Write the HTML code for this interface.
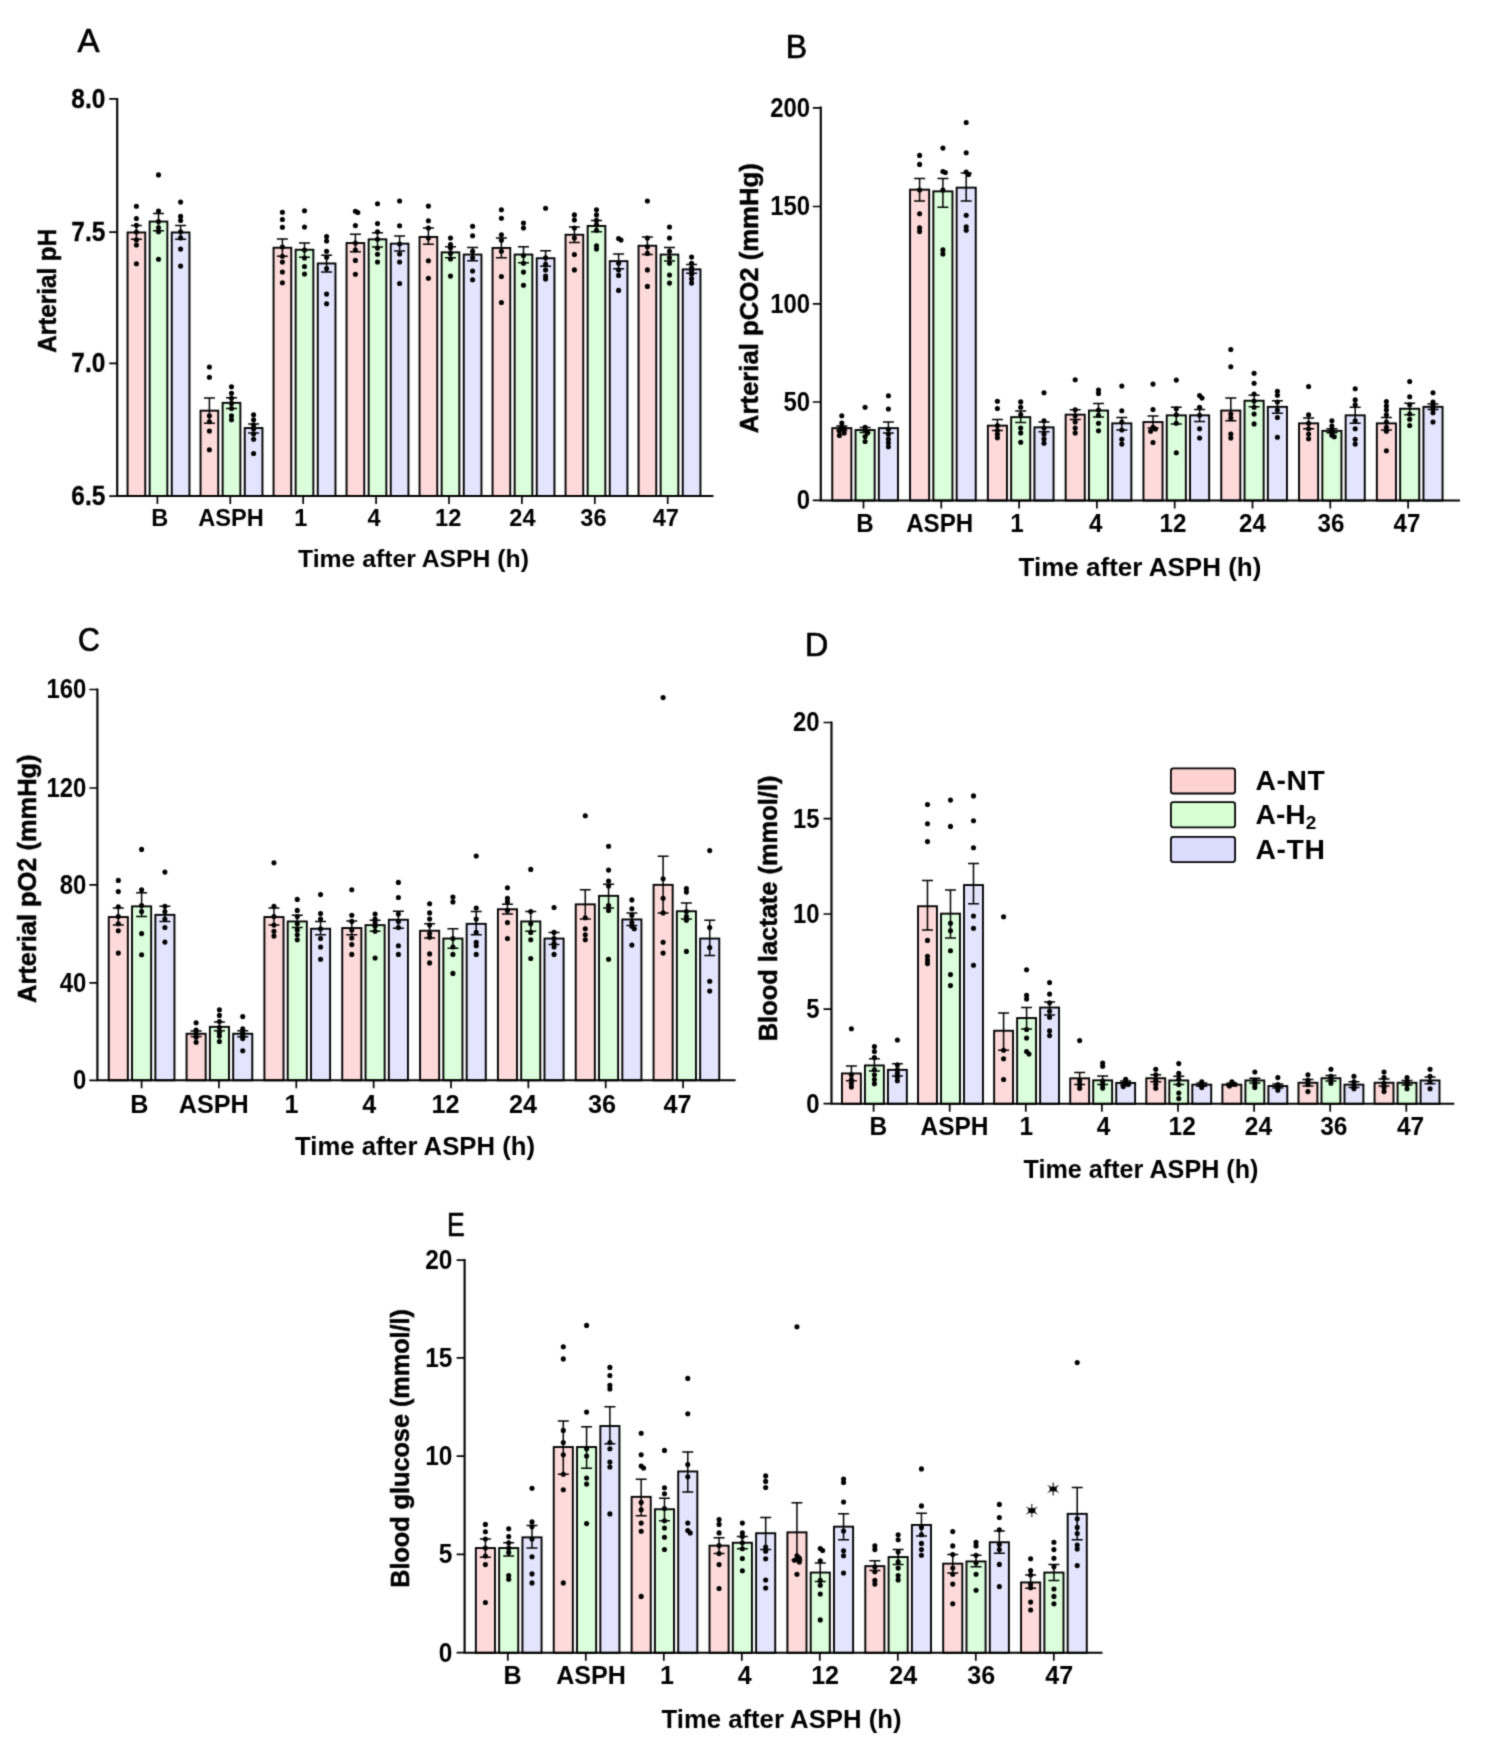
<!DOCTYPE html>
<html><head><meta charset="utf-8"><title>Figure</title>
<style>html,body{margin:0;padding:0;background:#fff}body{width:1500px;height:1762px;overflow:hidden}
svg{display:block;font-family:"Liberation Sans",sans-serif}
svg text{fill:#000}
.wa text{font-weight:bold}
.wa text.yl{stroke:#000;stroke-width:0.3px}
.wb text{font-weight:bold}
svg text.yt{stroke:#000;stroke-width:0.5px}
svg text.L{font-weight:normal;stroke:#000;stroke-width:0.7px}
svg text.lg{font-weight:bold}
</style></head><body>
<svg width="1500" height="1762" viewBox="0 0 1500 1762">
<defs><filter id="soft" x="0" y="0" width="1500" height="1762" filterUnits="userSpaceOnUse" color-interpolation-filters="sRGB"><feConvolveMatrix order="3" kernelMatrix="1 4 1 4 16 4 1 4 1" divisor="36" edgeMode="duplicate" preserveAlpha="false"/></filter></defs>
<g filter="url(#soft)">
<rect width="1500" height="1762" fill="#fff"/>
<g id="panelA" class="wa">
<rect x="127.55" y="232.45" width="17.7" height="263.6" fill="#ffdada" stroke="#000" stroke-width="1.9"/>
<rect x="149.65" y="221.55" width="17.7" height="274.5" fill="#dbffdb" stroke="#000" stroke-width="1.9"/>
<rect x="171.75" y="232.45" width="17.7" height="263.6" fill="#e4e4ff" stroke="#000" stroke-width="1.9"/>
<rect x="200.55" y="410.65" width="17.7" height="85.4" fill="#ffdada" stroke="#000" stroke-width="1.9"/>
<rect x="222.65" y="402.85" width="17.7" height="93.2" fill="#dbffdb" stroke="#000" stroke-width="1.9"/>
<rect x="244.75" y="428.05" width="17.7" height="68" fill="#e4e4ff" stroke="#000" stroke-width="1.9"/>
<rect x="273.55" y="247.75" width="17.7" height="248.3" fill="#ffdada" stroke="#000" stroke-width="1.9"/>
<rect x="295.65" y="249.75" width="17.7" height="246.3" fill="#dbffdb" stroke="#000" stroke-width="1.9"/>
<rect x="317.75" y="263.45" width="17.7" height="232.6" fill="#e4e4ff" stroke="#000" stroke-width="1.9"/>
<rect x="346.55" y="243.05" width="17.7" height="253" fill="#ffdada" stroke="#000" stroke-width="1.9"/>
<rect x="368.65" y="239.35" width="17.7" height="256.7" fill="#dbffdb" stroke="#000" stroke-width="1.9"/>
<rect x="390.75" y="243.65" width="17.7" height="252.4" fill="#e4e4ff" stroke="#000" stroke-width="1.9"/>
<rect x="419.55" y="236.95" width="17.7" height="259.1" fill="#ffdada" stroke="#000" stroke-width="1.9"/>
<rect x="441.65" y="252.35" width="17.7" height="243.7" fill="#dbffdb" stroke="#000" stroke-width="1.9"/>
<rect x="463.75" y="254.55" width="17.7" height="241.5" fill="#e4e4ff" stroke="#000" stroke-width="1.9"/>
<rect x="492.55" y="247.95" width="17.7" height="248.1" fill="#ffdada" stroke="#000" stroke-width="1.9"/>
<rect x="514.65" y="254.55" width="17.7" height="241.5" fill="#dbffdb" stroke="#000" stroke-width="1.9"/>
<rect x="536.75" y="258.25" width="17.7" height="237.8" fill="#e4e4ff" stroke="#000" stroke-width="1.9"/>
<rect x="565.55" y="234.75" width="17.7" height="261.3" fill="#ffdada" stroke="#000" stroke-width="1.9"/>
<rect x="587.65" y="225.95" width="17.7" height="270.1" fill="#dbffdb" stroke="#000" stroke-width="1.9"/>
<rect x="609.75" y="261.15" width="17.7" height="234.9" fill="#e4e4ff" stroke="#000" stroke-width="1.9"/>
<rect x="638.55" y="245.75" width="17.7" height="250.3" fill="#ffdada" stroke="#000" stroke-width="1.9"/>
<rect x="660.65" y="254.55" width="17.7" height="241.5" fill="#dbffdb" stroke="#000" stroke-width="1.9"/>
<rect x="682.75" y="269.35" width="17.7" height="226.7" fill="#e4e4ff" stroke="#000" stroke-width="1.9"/>
<path d="M117.2 97.95 V496 H713.5" fill="none" stroke="#000" stroke-width="2.1" stroke-linecap="butt" stroke-linejoin="miter"/>
<text transform="translate(105.3 107.7) scale(0.8735 1)" font-size="28" text-anchor="end" class="yl">8.0</text>
<text transform="translate(105.3 241.1) scale(0.8735 1)" font-size="28" text-anchor="end" class="yl">7.5</text>
<text transform="translate(105.3 372.2) scale(0.8735 1)" font-size="28" text-anchor="end" class="yl">7.0</text>
<text transform="translate(105.3 505) scale(0.8735 1)" font-size="28" text-anchor="end" class="yl">6.5</text>
<text transform="translate(159.8 526) scale(0.96 1)" font-size="24.6" text-anchor="middle" class="tk">B</text>
<text transform="translate(231 526) scale(0.96 1)" font-size="24.6" text-anchor="middle" class="tk">ASPH</text>
<text transform="translate(300.8 526) scale(0.96 1)" font-size="24.6" text-anchor="middle" class="tk">1</text>
<text transform="translate(374 526) scale(0.96 1)" font-size="24.6" text-anchor="middle" class="tk">4</text>
<text transform="translate(448.2 526) scale(0.96 1)" font-size="24.6" text-anchor="middle" class="tk">12</text>
<text transform="translate(522.4 526) scale(0.96 1)" font-size="24.6" text-anchor="middle" class="tk">24</text>
<text transform="translate(593.5 526) scale(0.96 1)" font-size="24.6" text-anchor="middle" class="tk">36</text>
<text transform="translate(665.8 526) scale(0.96 1)" font-size="24.6" text-anchor="middle" class="tk">47</text>
<path d="M109.2 98.8H117.2M109.2 232.2H117.2M109.2 363.3H117.2M109.2 496.1H117.2M157.4 496V504M230.3 496V504M303.2 496V504M376.1 496V504M449 496V504M521.9 496V504M594.8 496V504M667.7 496V504" fill="none" stroke="#000" stroke-width="1.7"/>
<path d="M136.4 225.6V239.3M130.9 225.6H141.9M130.9 239.3H141.9M158.5 213.4V230.7M153 213.4H164M153 230.7H164M180.6 225.6V239.3M175.1 225.6H186.1M175.1 239.3H186.1M209.4 397.9V423.2M203.9 397.9H214.9M203.9 423.2H214.9M231.5 397.7V408.5M226 397.7H237M226 408.5H237M253.6 423.9V433.1M248.1 423.9H259.1M248.1 433.1H259.1M282.4 238.9V256.3M276.9 238.9H287.9M276.9 256.3H287.9M304.5 243V257.3M299 243H310M299 257.3H310M326.6 255.3V272M321.1 255.3H332.1M321.1 272H332.1M355.4 234.2V251.8M349.9 234.2H360.9M349.9 251.8H360.9M377.5 232.8V247.1M372 232.8H383M372 247.1H383M399.6 236V251M394.1 236H405.1M394.1 251H405.1M428.4 228.1V244.2M422.9 228.1H433.9M422.9 244.2H433.9M450.5 246.8V257.8M445 246.8H456M445 257.8H456M472.6 247.5V260.7M467.1 247.5H478.1M467.1 260.7H478.1M501.4 238V257.8M495.9 238H506.9M495.9 257.8H506.9M523.5 246.8V262.7M518 246.8H529M518 262.7H529M545.6 250.8V266.2M540.1 250.8H551.1M540.1 266.2H551.1M574.4 227V242.4M568.9 227H579.9M568.9 242.4H579.9M596.5 220.4V231.8M591 220.4H602M591 231.8H602M618.6 253.9V268.8M613.1 253.9H624.1M613.1 268.8H624.1M647.4 236.9V254.5M641.9 236.9H652.9M641.9 254.5H652.9M669.5 247.5V261.1M664 247.5H675M664 261.1H675M691.6 264.4V273.2M686.1 264.4H697.1M686.1 273.2H697.1" fill="none" stroke="#000" stroke-width="1.5"/>
<g fill="#000"><circle cx="136.4" cy="206.2" r="2.55"/><circle cx="136.4" cy="218.5" r="2.55"/><circle cx="136.4" cy="225.2" r="2.55"/><circle cx="136.4" cy="232" r="2.55"/><circle cx="136.4" cy="239.9" r="2.55"/><circle cx="136.4" cy="245" r="2.55"/><circle cx="136.4" cy="263.8" r="2.55"/><circle cx="158.5" cy="174.9" r="2.55"/><circle cx="158.5" cy="211" r="2.55"/><circle cx="158.5" cy="221.5" r="2.55"/><circle cx="158.5" cy="227.7" r="2.55"/><circle cx="158.5" cy="231.7" r="2.55"/><circle cx="158.5" cy="259.3" r="2.55"/><circle cx="180.6" cy="202.1" r="2.55"/><circle cx="180.6" cy="216.4" r="2.55"/><circle cx="180.6" cy="220.5" r="2.55"/><circle cx="180.6" cy="231.7" r="2.55"/><circle cx="180.6" cy="237.9" r="2.55"/><circle cx="180.6" cy="249.1" r="2.55"/><circle cx="180.6" cy="266.1" r="2.55"/><circle cx="209.4" cy="367" r="2.55"/><circle cx="209.4" cy="377.3" r="2.55"/><circle cx="209.4" cy="415.7" r="2.55"/><circle cx="209.4" cy="421.8" r="2.55"/><circle cx="209.4" cy="431" r="2.55"/><circle cx="209.4" cy="449.8" r="2.55"/><circle cx="231.5" cy="386.7" r="2.55"/><circle cx="231.5" cy="393.2" r="2.55"/><circle cx="231.5" cy="398.3" r="2.55"/><circle cx="231.5" cy="403.4" r="2.55"/><circle cx="231.5" cy="408.5" r="2.55"/><circle cx="231.5" cy="415.7" r="2.55"/><circle cx="231.5" cy="419.8" r="2.55"/><circle cx="253.6" cy="414.7" r="2.55"/><circle cx="253.6" cy="419.8" r="2.55"/><circle cx="253.6" cy="424.9" r="2.55"/><circle cx="253.6" cy="429" r="2.55"/><circle cx="253.6" cy="434.1" r="2.55"/><circle cx="253.6" cy="439.2" r="2.55"/><circle cx="253.6" cy="453.5" r="2.55"/><circle cx="282.4" cy="212.3" r="2.55"/><circle cx="282.4" cy="219.5" r="2.55"/><circle cx="282.4" cy="227.3" r="2.55"/><circle cx="282.4" cy="247" r="2.55"/><circle cx="282.4" cy="256.3" r="2.55"/><circle cx="282.4" cy="262" r="2.55"/><circle cx="282.4" cy="272" r="2.55"/><circle cx="282.4" cy="282.8" r="2.55"/><circle cx="304.5" cy="210.7" r="2.55"/><circle cx="304.5" cy="227" r="2.55"/><circle cx="304.5" cy="250" r="2.55"/><circle cx="304.5" cy="258" r="2.55"/><circle cx="304.5" cy="266.5" r="2.55"/><circle cx="304.5" cy="274" r="2.55"/><circle cx="326.6" cy="236.5" r="2.55"/><circle cx="326.6" cy="241" r="2.55"/><circle cx="326.6" cy="251.2" r="2.55"/><circle cx="326.6" cy="257.3" r="2.55"/><circle cx="326.6" cy="268.5" r="2.55"/><circle cx="326.6" cy="294.1" r="2.55"/><circle cx="326.6" cy="303.7" r="2.55"/><circle cx="355.4" cy="211.3" r="2.55"/><circle cx="357.8" cy="212.5" r="2.55"/><circle cx="355.4" cy="225.6" r="2.55"/><circle cx="355.4" cy="243" r="2.55"/><circle cx="355.4" cy="250" r="2.55"/><circle cx="355.4" cy="260.4" r="2.55"/><circle cx="355.4" cy="274.3" r="2.55"/><circle cx="377.5" cy="203.8" r="2.55"/><circle cx="377.5" cy="223.6" r="2.55"/><circle cx="377.5" cy="231.8" r="2.55"/><circle cx="377.5" cy="239.3" r="2.55"/><circle cx="377.5" cy="248.1" r="2.55"/><circle cx="377.5" cy="254.2" r="2.55"/><circle cx="377.5" cy="262" r="2.55"/><circle cx="399.6" cy="201" r="2.55"/><circle cx="399.6" cy="225.7" r="2.55"/><circle cx="399.6" cy="244" r="2.55"/><circle cx="399.6" cy="254" r="2.55"/><circle cx="399.6" cy="262" r="2.55"/><circle cx="399.6" cy="283.5" r="2.55"/><circle cx="428.4" cy="206.1" r="2.55"/><circle cx="428.4" cy="220.8" r="2.55"/><circle cx="428.4" cy="228.1" r="2.55"/><circle cx="428.4" cy="238" r="2.55"/><circle cx="428.4" cy="260.7" r="2.55"/><circle cx="428.4" cy="278.3" r="2.55"/><circle cx="450.5" cy="238" r="2.55"/><circle cx="450.5" cy="244.6" r="2.55"/><circle cx="450.5" cy="247.9" r="2.55"/><circle cx="450.5" cy="253.4" r="2.55"/><circle cx="450.5" cy="258.9" r="2.55"/><circle cx="450.5" cy="276.1" r="2.55"/><circle cx="472.6" cy="226.3" r="2.55"/><circle cx="472.6" cy="235.8" r="2.55"/><circle cx="472.6" cy="251.2" r="2.55"/><circle cx="472.6" cy="257.8" r="2.55"/><circle cx="472.6" cy="271" r="2.55"/><circle cx="472.6" cy="279.8" r="2.55"/><circle cx="501.4" cy="209.8" r="2.55"/><circle cx="501.4" cy="218.2" r="2.55"/><circle cx="501.4" cy="234.7" r="2.55"/><circle cx="501.4" cy="240.2" r="2.55"/><circle cx="501.4" cy="251.2" r="2.55"/><circle cx="501.4" cy="276.5" r="2.55"/><circle cx="501.4" cy="302.5" r="2.55"/><circle cx="523.5" cy="223" r="2.55"/><circle cx="523.5" cy="228" r="2.55"/><circle cx="523.5" cy="255.6" r="2.55"/><circle cx="523.5" cy="263.3" r="2.55"/><circle cx="523.5" cy="272.1" r="2.55"/><circle cx="523.5" cy="285.3" r="2.55"/><circle cx="545.6" cy="208.3" r="2.55"/><circle cx="545.6" cy="257.8" r="2.55"/><circle cx="545.6" cy="264.4" r="2.55"/><circle cx="545.6" cy="269.9" r="2.55"/><circle cx="545.6" cy="276" r="2.55"/><circle cx="545.6" cy="279" r="2.55"/><circle cx="574.4" cy="214.9" r="2.55"/><circle cx="574.4" cy="220" r="2.55"/><circle cx="574.4" cy="228.1" r="2.55"/><circle cx="574.4" cy="238" r="2.55"/><circle cx="574.4" cy="254.5" r="2.55"/><circle cx="574.4" cy="269.9" r="2.55"/><circle cx="596.5" cy="209.8" r="2.55"/><circle cx="596.5" cy="214.9" r="2.55"/><circle cx="596.5" cy="220.4" r="2.55"/><circle cx="596.5" cy="224.8" r="2.55"/><circle cx="596.5" cy="230.3" r="2.55"/><circle cx="596.5" cy="245.7" r="2.55"/><circle cx="596.5" cy="249" r="2.55"/><circle cx="618.6" cy="238.5" r="2.55"/><circle cx="621" cy="240" r="2.55"/><circle cx="618.6" cy="263.3" r="2.55"/><circle cx="618.6" cy="269.9" r="2.55"/><circle cx="618.6" cy="275.4" r="2.55"/><circle cx="618.6" cy="290.4" r="2.55"/><circle cx="647.4" cy="201" r="2.55"/><circle cx="647.4" cy="238" r="2.55"/><circle cx="647.4" cy="246.8" r="2.55"/><circle cx="647.4" cy="253.4" r="2.55"/><circle cx="647.4" cy="269.9" r="2.55"/><circle cx="647.4" cy="286.4" r="2.55"/><circle cx="669.5" cy="227" r="2.55"/><circle cx="669.5" cy="238" r="2.55"/><circle cx="669.5" cy="251.2" r="2.55"/><circle cx="669.5" cy="257.8" r="2.55"/><circle cx="669.5" cy="263.3" r="2.55"/><circle cx="669.5" cy="275" r="2.55"/><circle cx="669.5" cy="283.1" r="2.55"/><circle cx="691.6" cy="257.1" r="2.55"/><circle cx="691.6" cy="263.3" r="2.55"/><circle cx="691.6" cy="267.7" r="2.55"/><circle cx="691.6" cy="271" r="2.55"/><circle cx="691.6" cy="274.3" r="2.55"/><circle cx="691.6" cy="278.7" r="2.55"/><circle cx="691.6" cy="283.1" r="2.55"/></g>
<text transform="translate(56.1 290.8) rotate(-90) scale(0.9329 1)" font-size="26" text-anchor="middle" class="yt">Arterial pH</text>
<text transform="translate(413.5 566.5) scale(1.0311 1)" font-size="24" text-anchor="middle">Time after ASPH (h)</text>
<text transform="translate(77.6 51.6) scale(0.970 1)" font-size="34" class="L">A</text>
</g>
<g id="panelB" class="wb">
<rect x="832.25" y="428.15" width="19.1" height="72.4" fill="#ffdada" stroke="#000" stroke-width="1.9"/>
<rect x="855.55" y="430.05" width="19.1" height="70.5" fill="#dbffdb" stroke="#000" stroke-width="1.9"/>
<rect x="878.85" y="428.15" width="19.1" height="72.4" fill="#e4e4ff" stroke="#000" stroke-width="1.9"/>
<rect x="910.05" y="189.65" width="19.1" height="310.9" fill="#ffdada" stroke="#000" stroke-width="1.9"/>
<rect x="933.35" y="191.35" width="19.1" height="309.2" fill="#dbffdb" stroke="#000" stroke-width="1.9"/>
<rect x="956.65" y="187.65" width="19.1" height="312.9" fill="#e4e4ff" stroke="#000" stroke-width="1.9"/>
<rect x="987.85" y="425.65" width="19.1" height="74.9" fill="#ffdada" stroke="#000" stroke-width="1.9"/>
<rect x="1011.15" y="417.15" width="19.1" height="83.4" fill="#dbffdb" stroke="#000" stroke-width="1.9"/>
<rect x="1034.45" y="427.35" width="19.1" height="73.2" fill="#e4e4ff" stroke="#000" stroke-width="1.9"/>
<rect x="1065.65" y="414.65" width="19.1" height="85.9" fill="#ffdada" stroke="#000" stroke-width="1.9"/>
<rect x="1088.95" y="410.55" width="19.1" height="90" fill="#dbffdb" stroke="#000" stroke-width="1.9"/>
<rect x="1112.25" y="423.35" width="19.1" height="77.2" fill="#e4e4ff" stroke="#000" stroke-width="1.9"/>
<rect x="1143.45" y="422.05" width="19.1" height="78.5" fill="#ffdada" stroke="#000" stroke-width="1.9"/>
<rect x="1166.75" y="415.35" width="19.1" height="85.2" fill="#dbffdb" stroke="#000" stroke-width="1.9"/>
<rect x="1190.05" y="415.35" width="19.1" height="85.2" fill="#e4e4ff" stroke="#000" stroke-width="1.9"/>
<rect x="1221.25" y="410.55" width="19.1" height="90" fill="#ffdada" stroke="#000" stroke-width="1.9"/>
<rect x="1244.55" y="400.75" width="19.1" height="99.8" fill="#dbffdb" stroke="#000" stroke-width="1.9"/>
<rect x="1267.85" y="406.85" width="19.1" height="93.7" fill="#e4e4ff" stroke="#000" stroke-width="1.9"/>
<rect x="1299.05" y="423.35" width="19.1" height="77.2" fill="#ffdada" stroke="#000" stroke-width="1.9"/>
<rect x="1322.35" y="430.85" width="19.1" height="69.7" fill="#dbffdb" stroke="#000" stroke-width="1.9"/>
<rect x="1345.65" y="415.35" width="19.1" height="85.2" fill="#e4e4ff" stroke="#000" stroke-width="1.9"/>
<rect x="1376.85" y="423.35" width="19.1" height="77.2" fill="#ffdada" stroke="#000" stroke-width="1.9"/>
<rect x="1400.15" y="408.75" width="19.1" height="91.8" fill="#dbffdb" stroke="#000" stroke-width="1.9"/>
<rect x="1423.45" y="406.85" width="19.1" height="93.7" fill="#e4e4ff" stroke="#000" stroke-width="1.9"/>
<path d="M820.8 106.55 V500.5 H1460" fill="none" stroke="#000" stroke-width="2.1" stroke-linecap="butt" stroke-linejoin="miter"/>
<text transform="translate(810 116.7) scale(0.8540 1)" font-size="28" text-anchor="end" class="yl">200</text>
<text transform="translate(810 215.4) scale(0.8540 1)" font-size="28" text-anchor="end" class="yl">150</text>
<text transform="translate(810 312.7) scale(0.8540 1)" font-size="28" text-anchor="end" class="yl">100</text>
<text transform="translate(810 410.9) scale(0.8541 1)" font-size="28" text-anchor="end" class="yl">50</text>
<text transform="translate(810 509.3) scale(0.8539 1)" font-size="28" text-anchor="end" class="yl">0</text>
<text transform="translate(865 532.4) scale(0.94 1)" font-size="25.7" text-anchor="middle" class="tk">B</text>
<text transform="translate(939.7 532.4) scale(0.94 1)" font-size="25.7" text-anchor="middle" class="tk">ASPH</text>
<text transform="translate(1017 532.4) scale(0.94 1)" font-size="25.7" text-anchor="middle" class="tk">1</text>
<text transform="translate(1095.7 532.4) scale(0.94 1)" font-size="25.7" text-anchor="middle" class="tk">4</text>
<text transform="translate(1173 532.4) scale(0.94 1)" font-size="25.7" text-anchor="middle" class="tk">12</text>
<text transform="translate(1252.5 532.4) scale(0.94 1)" font-size="25.7" text-anchor="middle" class="tk">24</text>
<text transform="translate(1330.9 532.4) scale(0.94 1)" font-size="25.7" text-anchor="middle" class="tk">36</text>
<text transform="translate(1407 532.4) scale(0.94 1)" font-size="25.7" text-anchor="middle" class="tk">47</text>
<path d="M812.8 107.8H820.8M812.8 206.5H820.8M812.8 303.8H820.8M812.8 402H820.8M812.8 500.4H820.8M863.5 500.5V508.5M941.3 500.5V508.5M1019.1 500.5V508.5M1096.9 500.5V508.5M1174.7 500.5V508.5M1252.5 500.5V508.5M1330.3 500.5V508.5M1408.1 500.5V508.5" fill="none" stroke="#000" stroke-width="1.7"/>
<path d="M841.8 426V430.5M836.3 426H847.3M836.3 430.5H847.3M865.1 427.5V432.5M859.6 427.5H870.6M859.6 432.5H870.6M888.4 422V432.9M882.9 422H893.9M882.9 432.9H893.9M919.6 178.4V201.1M914.1 178.4H925.1M914.1 201.1H925.1M942.9 178.4V207.2M937.4 178.4H948.4M937.4 207.2H948.4M966.2 173V201M960.7 173H971.7M960.7 201H971.7M997.4 419.5V430.5M991.9 419.5H1002.9M991.9 430.5H1002.9M1020.7 411V422.4M1015.2 411H1026.2M1015.2 422.4H1026.2M1044 422V431.7M1038.5 422H1049.5M1038.5 431.7H1049.5M1075.2 409.7V419.5M1069.7 409.7H1080.7M1069.7 419.5H1080.7M1098.5 403.5V416.9M1093 403.5H1104M1093 416.9H1104M1121.8 417.5V430M1116.3 417.5H1127.3M1116.3 430H1127.3M1153 415.9V428.1M1147.5 415.9H1158.5M1147.5 428.1H1158.5M1176.3 407.3V423.9M1170.8 407.3H1181.8M1170.8 423.9H1181.8M1199.6 409.5V421.5M1194.1 409.5H1205.1M1194.1 421.5H1205.1M1230.8 398V420.7M1225.3 398H1236.3M1225.3 420.7H1236.3M1254.1 395.3V406.8M1248.6 395.3H1259.6M1248.6 406.8H1259.6M1277.4 400.7V413.2M1271.9 400.7H1282.9M1271.9 413.2H1282.9M1308.6 418V428.7M1303.1 418H1314.1M1303.1 428.7H1314.1M1331.9 428.8V432.8M1326.4 428.8H1337.4M1326.4 432.8H1337.4M1355.2 407.3V423.3M1349.7 407.3H1360.7M1349.7 423.3H1360.7M1386.4 417.5V430M1380.9 417.5H1391.9M1380.9 430H1391.9M1409.7 403.3V414.8M1404.2 403.3H1415.2M1404.2 414.8H1415.2M1433 404.1V409.5M1427.5 404.1H1438.5M1427.5 409.5H1438.5" fill="none" stroke="#000" stroke-width="1.5"/>
<g fill="#000"><circle cx="841.8" cy="415.8" r="2.55"/><circle cx="841.8" cy="423" r="2.55"/><circle cx="841.8" cy="427" r="2.55"/><circle cx="844.2" cy="429" r="2.55"/><circle cx="839.4" cy="431" r="2.55"/><circle cx="844.2" cy="433" r="2.55"/><circle cx="839.4" cy="435.4" r="2.55"/><circle cx="865.1" cy="407.3" r="2.55"/><circle cx="865.1" cy="427.3" r="2.55"/><circle cx="865.1" cy="430.5" r="2.55"/><circle cx="867.5" cy="433" r="2.55"/><circle cx="865.1" cy="436.6" r="2.55"/><circle cx="865.1" cy="441.5" r="2.55"/><circle cx="888.4" cy="395.8" r="2.55"/><circle cx="888.4" cy="409" r="2.55"/><circle cx="888.4" cy="429.3" r="2.55"/><circle cx="888.4" cy="434.2" r="2.55"/><circle cx="888.4" cy="439" r="2.55"/><circle cx="888.4" cy="442.7" r="2.55"/><circle cx="888.4" cy="446.8" r="2.55"/><circle cx="919.6" cy="155.4" r="2.55"/><circle cx="919.6" cy="164.4" r="2.55"/><circle cx="919.6" cy="190" r="2.55"/><circle cx="919.6" cy="213.7" r="2.55"/><circle cx="919.6" cy="227.9" r="2.55"/><circle cx="919.6" cy="231.6" r="2.55"/><circle cx="942.9" cy="148.1" r="2.55"/><circle cx="942.9" cy="171.5" r="2.55"/><circle cx="945.3" cy="172.5" r="2.55"/><circle cx="942.9" cy="190" r="2.55"/><circle cx="942.9" cy="249.9" r="2.55"/><circle cx="942.9" cy="254" r="2.55"/><circle cx="966.2" cy="122.5" r="2.55"/><circle cx="966.2" cy="152.7" r="2.55"/><circle cx="966.2" cy="172" r="2.55"/><circle cx="968.6" cy="174.5" r="2.55"/><circle cx="966.2" cy="215.2" r="2.55"/><circle cx="966.2" cy="226.7" r="2.55"/><circle cx="966.2" cy="230.3" r="2.55"/><circle cx="997.4" cy="401.2" r="2.55"/><circle cx="997.4" cy="408.5" r="2.55"/><circle cx="997.4" cy="425.6" r="2.55"/><circle cx="997.4" cy="430.5" r="2.55"/><circle cx="997.4" cy="434.2" r="2.55"/><circle cx="997.4" cy="437.8" r="2.55"/><circle cx="1020.7" cy="401.9" r="2.55"/><circle cx="1020.7" cy="407.3" r="2.55"/><circle cx="1020.7" cy="414.6" r="2.55"/><circle cx="1020.7" cy="428" r="2.55"/><circle cx="1020.7" cy="432.9" r="2.55"/><circle cx="1020.7" cy="442.2" r="2.55"/><circle cx="1044" cy="392.7" r="2.55"/><circle cx="1044" cy="420.7" r="2.55"/><circle cx="1044" cy="428" r="2.55"/><circle cx="1044" cy="434.2" r="2.55"/><circle cx="1044" cy="439" r="2.55"/><circle cx="1044" cy="443.2" r="2.55"/><circle cx="1075.2" cy="379.7" r="2.55"/><circle cx="1075.2" cy="409.7" r="2.55"/><circle cx="1075.2" cy="415.8" r="2.55"/><circle cx="1075.2" cy="422" r="2.55"/><circle cx="1075.2" cy="428" r="2.55"/><circle cx="1075.2" cy="432.9" r="2.55"/><circle cx="1098.5" cy="390" r="2.55"/><circle cx="1098.5" cy="393.5" r="2.55"/><circle cx="1098.5" cy="410" r="2.55"/><circle cx="1098.5" cy="415.3" r="2.55"/><circle cx="1098.5" cy="423.3" r="2.55"/><circle cx="1098.5" cy="430.8" r="2.55"/><circle cx="1121.8" cy="386" r="2.55"/><circle cx="1121.8" cy="410.8" r="2.55"/><circle cx="1121.8" cy="422" r="2.55"/><circle cx="1121.8" cy="430" r="2.55"/><circle cx="1121.8" cy="439.3" r="2.55"/><circle cx="1121.8" cy="444.1" r="2.55"/><circle cx="1153" cy="384.1" r="2.55"/><circle cx="1153" cy="409.5" r="2.55"/><circle cx="1153" cy="427.3" r="2.55"/><circle cx="1155.4" cy="429" r="2.55"/><circle cx="1150.6" cy="431.3" r="2.55"/><circle cx="1153" cy="442.5" r="2.55"/><circle cx="1176.3" cy="380.1" r="2.55"/><circle cx="1176.3" cy="408.7" r="2.55"/><circle cx="1176.3" cy="414.8" r="2.55"/><circle cx="1176.3" cy="423.3" r="2.55"/><circle cx="1176.3" cy="452.7" r="2.55"/><circle cx="1199.6" cy="395.5" r="2.55"/><circle cx="1202" cy="398" r="2.55"/><circle cx="1199.6" cy="407.3" r="2.55"/><circle cx="1199.6" cy="415.3" r="2.55"/><circle cx="1199.6" cy="428.7" r="2.55"/><circle cx="1199.6" cy="438" r="2.55"/><circle cx="1230.8" cy="349.5" r="2.55"/><circle cx="1230.8" cy="366.8" r="2.55"/><circle cx="1230.8" cy="414" r="2.55"/><circle cx="1230.8" cy="418" r="2.55"/><circle cx="1230.8" cy="434" r="2.55"/><circle cx="1230.8" cy="438" r="2.55"/><circle cx="1254.1" cy="373.2" r="2.55"/><circle cx="1254.1" cy="383.3" r="2.55"/><circle cx="1254.1" cy="394" r="2.55"/><circle cx="1254.1" cy="401" r="2.55"/><circle cx="1254.1" cy="407.3" r="2.55"/><circle cx="1254.1" cy="414" r="2.55"/><circle cx="1254.1" cy="423.9" r="2.55"/><circle cx="1277.4" cy="391.3" r="2.55"/><circle cx="1277.4" cy="395.3" r="2.55"/><circle cx="1277.4" cy="402" r="2.55"/><circle cx="1277.4" cy="410" r="2.55"/><circle cx="1277.4" cy="417.5" r="2.55"/><circle cx="1277.4" cy="437.2" r="2.55"/><circle cx="1308.6" cy="386.5" r="2.55"/><circle cx="1308.6" cy="414.8" r="2.55"/><circle cx="1308.6" cy="423.3" r="2.55"/><circle cx="1308.6" cy="428.7" r="2.55"/><circle cx="1308.6" cy="434" r="2.55"/><circle cx="1308.6" cy="438.8" r="2.55"/><circle cx="1331.9" cy="420.7" r="2.55"/><circle cx="1331.9" cy="426" r="2.55"/><circle cx="1331.9" cy="430" r="2.55"/><circle cx="1331.9" cy="432.7" r="2.55"/><circle cx="1331.9" cy="435.3" r="2.55"/><circle cx="1334.3" cy="436.7" r="2.55"/><circle cx="1355.2" cy="388.7" r="2.55"/><circle cx="1355.2" cy="399.9" r="2.55"/><circle cx="1355.2" cy="404.7" r="2.55"/><circle cx="1355.2" cy="420.7" r="2.55"/><circle cx="1355.2" cy="428.7" r="2.55"/><circle cx="1355.2" cy="439.3" r="2.55"/><circle cx="1355.2" cy="444.1" r="2.55"/><circle cx="1386.4" cy="401.5" r="2.55"/><circle cx="1386.4" cy="406" r="2.55"/><circle cx="1386.4" cy="410" r="2.55"/><circle cx="1386.4" cy="414.8" r="2.55"/><circle cx="1386.4" cy="422" r="2.55"/><circle cx="1386.4" cy="427.3" r="2.55"/><circle cx="1386.4" cy="431.3" r="2.55"/><circle cx="1386.4" cy="450.8" r="2.55"/><circle cx="1409.7" cy="381.5" r="2.55"/><circle cx="1409.7" cy="396.7" r="2.55"/><circle cx="1409.7" cy="404.7" r="2.55"/><circle cx="1409.7" cy="414" r="2.55"/><circle cx="1409.7" cy="419.3" r="2.55"/><circle cx="1409.7" cy="425.5" r="2.55"/><circle cx="1433" cy="392.7" r="2.55"/><circle cx="1433" cy="402" r="2.55"/><circle cx="1433" cy="406" r="2.55"/><circle cx="1433" cy="408.7" r="2.55"/><circle cx="1433" cy="412.7" r="2.55"/><circle cx="1433" cy="422" r="2.55"/></g>
<text transform="translate(757.8 298.2) rotate(-90) scale(0.9702 1)" font-size="26.5" text-anchor="middle" class="yt">Arterial pCO2 (mmHg)</text>
<text transform="translate(1140 576.2) scale(1.0208 1)" font-size="25.5" text-anchor="middle">Time after ASPH (h)</text>
<text transform="translate(785.65 58) scale(0.940 1)" font-size="34" class="L">B</text>
</g>
<g id="panelC" class="wb">
<rect x="108.75" y="917.05" width="19.1" height="163.3" fill="#ffdada" stroke="#000" stroke-width="1.9"/>
<rect x="132.05" y="906.35" width="19.1" height="174" fill="#dbffdb" stroke="#000" stroke-width="1.9"/>
<rect x="155.35" y="914.85" width="19.1" height="165.5" fill="#e4e4ff" stroke="#000" stroke-width="1.9"/>
<rect x="186.58" y="1033.75" width="19.1" height="46.6" fill="#ffdada" stroke="#000" stroke-width="1.9"/>
<rect x="209.88" y="1026.85" width="19.1" height="53.5" fill="#dbffdb" stroke="#000" stroke-width="1.9"/>
<rect x="233.18" y="1033.75" width="19.1" height="46.6" fill="#e4e4ff" stroke="#000" stroke-width="1.9"/>
<rect x="264.41" y="917.05" width="19.1" height="163.3" fill="#ffdada" stroke="#000" stroke-width="1.9"/>
<rect x="287.71" y="921.45" width="19.1" height="158.9" fill="#dbffdb" stroke="#000" stroke-width="1.9"/>
<rect x="311.01" y="928.75" width="19.1" height="151.6" fill="#e4e4ff" stroke="#000" stroke-width="1.9"/>
<rect x="342.24" y="928.05" width="19.1" height="152.3" fill="#ffdada" stroke="#000" stroke-width="1.9"/>
<rect x="365.54" y="925.15" width="19.1" height="155.2" fill="#dbffdb" stroke="#000" stroke-width="1.9"/>
<rect x="388.84" y="919.75" width="19.1" height="160.6" fill="#e4e4ff" stroke="#000" stroke-width="1.9"/>
<rect x="420.07" y="930.75" width="19.1" height="149.6" fill="#ffdada" stroke="#000" stroke-width="1.9"/>
<rect x="443.37" y="938.55" width="19.1" height="141.8" fill="#dbffdb" stroke="#000" stroke-width="1.9"/>
<rect x="466.67" y="923.85" width="19.1" height="156.5" fill="#e4e4ff" stroke="#000" stroke-width="1.9"/>
<rect x="497.9" y="909.25" width="19.1" height="171.1" fill="#ffdada" stroke="#000" stroke-width="1.9"/>
<rect x="521.2" y="921.45" width="19.1" height="158.9" fill="#dbffdb" stroke="#000" stroke-width="1.9"/>
<rect x="544.5" y="938.55" width="19.1" height="141.8" fill="#e4e4ff" stroke="#000" stroke-width="1.9"/>
<rect x="575.73" y="904.35" width="19.1" height="176" fill="#ffdada" stroke="#000" stroke-width="1.9"/>
<rect x="599.03" y="895.85" width="19.1" height="184.5" fill="#dbffdb" stroke="#000" stroke-width="1.9"/>
<rect x="622.33" y="919.45" width="19.1" height="160.9" fill="#e4e4ff" stroke="#000" stroke-width="1.9"/>
<rect x="653.56" y="884.85" width="19.1" height="195.5" fill="#ffdada" stroke="#000" stroke-width="1.9"/>
<rect x="676.86" y="911.25" width="19.1" height="169.1" fill="#dbffdb" stroke="#000" stroke-width="1.9"/>
<rect x="700.16" y="938.55" width="19.1" height="141.8" fill="#e4e4ff" stroke="#000" stroke-width="1.9"/>
<path d="M97.4 688.45 V1080.3 H735.6" fill="none" stroke="#000" stroke-width="2.1" stroke-linecap="butt" stroke-linejoin="miter"/>
<text transform="translate(86.4 698.4) scale(0.8540 1)" font-size="28" text-anchor="end" class="yl">160</text>
<text transform="translate(86.4 796.9) scale(0.8540 1)" font-size="28" text-anchor="end" class="yl">120</text>
<text transform="translate(86.4 893.8) scale(0.8541 1)" font-size="28" text-anchor="end" class="yl">80</text>
<text transform="translate(86.4 991.7) scale(0.8541 1)" font-size="28" text-anchor="end" class="yl">40</text>
<text transform="translate(86.4 1089.2) scale(0.8539 1)" font-size="28" text-anchor="end" class="yl">0</text>
<text transform="translate(139.3 1112.6) scale(0.98 1)" font-size="25.7" text-anchor="middle" class="tk">B</text>
<text transform="translate(213.7 1112.6) scale(0.98 1)" font-size="25.7" text-anchor="middle" class="tk">ASPH</text>
<text transform="translate(291.5 1112.6) scale(0.98 1)" font-size="25.7" text-anchor="middle" class="tk">1</text>
<text transform="translate(369.2 1112.6) scale(0.98 1)" font-size="25.7" text-anchor="middle" class="tk">4</text>
<text transform="translate(445.5 1112.6) scale(0.98 1)" font-size="25.7" text-anchor="middle" class="tk">12</text>
<text transform="translate(523.1 1112.6) scale(0.98 1)" font-size="25.7" text-anchor="middle" class="tk">24</text>
<text transform="translate(602 1112.6) scale(0.98 1)" font-size="25.7" text-anchor="middle" class="tk">36</text>
<text transform="translate(677.5 1112.6) scale(0.98 1)" font-size="25.7" text-anchor="middle" class="tk">47</text>
<path d="M89.4 689.5H97.4M89.4 788H97.4M89.4 884.9H97.4M89.4 982.8H97.4M89.4 1080.3H97.4M141.6 1080.3V1088.3M218.95 1080.3V1088.3M296.3 1080.3V1088.3M373.65 1080.3V1088.3M451 1080.3V1088.3M528.35 1080.3V1088.3M605.7 1080.3V1088.3M683.05 1080.3V1088.3" fill="none" stroke="#000" stroke-width="1.7"/>
<path d="M118.3 908V925M112.8 908H123.8M112.8 925H123.8M141.6 892.8V916.5M136.1 892.8H147.1M136.1 916.5H147.1M164.9 906.3V921.4M159.4 906.3H170.4M159.4 921.4H170.4M196.13 1031V1036.4M190.63 1031H201.63M190.63 1036.4H201.63M219.43 1022V1030.8M213.93 1022H224.93M213.93 1030.8H224.93M242.73 1030.7V1036.7M237.23 1030.7H248.23M237.23 1036.7H248.23M273.96 908V925.1M268.46 908H279.46M268.46 925.1H279.46M297.26 915.3V927.5M291.76 915.3H302.76M291.76 927.5H302.76M320.56 921.4V934.8M315.06 921.4H326.06M315.06 934.8H326.06M351.79 920.9V934.8M346.29 920.9H357.29M346.29 934.8H357.29M375.09 920.2V931.2M369.59 920.2H380.59M369.59 931.2H380.59M398.39 911.2V928.2M392.89 911.2H403.89M392.89 928.2H403.89M429.62 923.8V938M424.12 923.8H435.12M424.12 938H435.12M452.92 928.7V948.3M447.42 928.7H458.42M447.42 948.3H458.42M476.22 911.6V934.8M470.72 911.6H481.72M470.72 934.8H481.72M507.45 904.3V914.1M501.95 904.3H512.95M501.95 914.1H512.95M530.75 911.6V931.2M525.25 911.6H536.25M525.25 931.2H536.25M554.05 932.4V944.6M548.55 932.4H559.55M548.55 944.6H559.55M585.28 889.7V919M579.78 889.7H590.78M579.78 919H590.78M608.58 884.3V908M603.08 884.3H614.08M603.08 908H614.08M631.88 912.9V925.6M626.38 912.9H637.38M626.38 925.6H637.38M663.11 856.2V912.9M657.61 856.2H668.61M657.61 912.9H668.61M686.41 903.1V919M680.91 903.1H691.91M680.91 919H691.91M709.71 920.2V955.6M704.21 920.2H715.21M704.21 955.6H715.21" fill="none" stroke="#000" stroke-width="1.5"/>
<g fill="#000"><circle cx="118.3" cy="880.4" r="2.55"/><circle cx="118.3" cy="891.6" r="2.55"/><circle cx="118.3" cy="906.8" r="2.55"/><circle cx="118.3" cy="916.5" r="2.55"/><circle cx="118.3" cy="923.8" r="2.55"/><circle cx="118.3" cy="930.7" r="2.55"/><circle cx="118.3" cy="953.1" r="2.55"/><circle cx="141.6" cy="849.4" r="2.55"/><circle cx="141.6" cy="889.7" r="2.55"/><circle cx="141.6" cy="905.5" r="2.55"/><circle cx="141.6" cy="911.6" r="2.55"/><circle cx="141.6" cy="933.6" r="2.55"/><circle cx="141.6" cy="954.8" r="2.55"/><circle cx="164.9" cy="872.1" r="2.55"/><circle cx="164.9" cy="906.3" r="2.55"/><circle cx="164.9" cy="911.6" r="2.55"/><circle cx="164.9" cy="919" r="2.55"/><circle cx="164.9" cy="927.5" r="2.55"/><circle cx="164.9" cy="942.1" r="2.55"/><circle cx="196.13" cy="1022.7" r="2.55"/><circle cx="196.13" cy="1030" r="2.55"/><circle cx="196.13" cy="1033.7" r="2.55"/><circle cx="196.13" cy="1037.3" r="2.55"/><circle cx="196.13" cy="1042.2" r="2.55"/><circle cx="219.43" cy="1009.8" r="2.55"/><circle cx="219.43" cy="1015.4" r="2.55"/><circle cx="219.43" cy="1021.5" r="2.55"/><circle cx="219.43" cy="1027.6" r="2.55"/><circle cx="219.43" cy="1032.5" r="2.55"/><circle cx="219.43" cy="1036.1" r="2.55"/><circle cx="219.43" cy="1041.5" r="2.55"/><circle cx="242.73" cy="1016.6" r="2.55"/><circle cx="242.73" cy="1028.8" r="2.55"/><circle cx="242.73" cy="1032.5" r="2.55"/><circle cx="242.73" cy="1035.6" r="2.55"/><circle cx="242.73" cy="1038.6" r="2.55"/><circle cx="242.73" cy="1050.8" r="2.55"/><circle cx="273.96" cy="862.8" r="2.55"/><circle cx="273.96" cy="906.3" r="2.55"/><circle cx="273.96" cy="916.5" r="2.55"/><circle cx="273.96" cy="925.1" r="2.55"/><circle cx="273.96" cy="931.2" r="2.55"/><circle cx="273.96" cy="936.1" r="2.55"/><circle cx="297.26" cy="899.4" r="2.55"/><circle cx="297.26" cy="910.4" r="2.55"/><circle cx="297.26" cy="916.5" r="2.55"/><circle cx="297.26" cy="923.8" r="2.55"/><circle cx="297.26" cy="929.9" r="2.55"/><circle cx="297.26" cy="934.8" r="2.55"/><circle cx="297.26" cy="939.7" r="2.55"/><circle cx="320.56" cy="894.6" r="2.55"/><circle cx="320.56" cy="913.6" r="2.55"/><circle cx="320.56" cy="919" r="2.55"/><circle cx="320.56" cy="928.7" r="2.55"/><circle cx="320.56" cy="938.5" r="2.55"/><circle cx="320.56" cy="947" r="2.55"/><circle cx="320.56" cy="959.2" r="2.55"/><circle cx="351.79" cy="889.7" r="2.55"/><circle cx="351.79" cy="915.3" r="2.55"/><circle cx="351.79" cy="921.4" r="2.55"/><circle cx="351.79" cy="929.9" r="2.55"/><circle cx="351.79" cy="938" r="2.55"/><circle cx="351.79" cy="944.6" r="2.55"/><circle cx="351.79" cy="954.4" r="2.55"/><circle cx="375.09" cy="914.1" r="2.55"/><circle cx="375.09" cy="919" r="2.55"/><circle cx="375.09" cy="922.6" r="2.55"/><circle cx="375.09" cy="926.3" r="2.55"/><circle cx="375.09" cy="931.2" r="2.55"/><circle cx="375.09" cy="958" r="2.55"/><circle cx="398.39" cy="882.4" r="2.55"/><circle cx="398.39" cy="897.5" r="2.55"/><circle cx="398.39" cy="914.1" r="2.55"/><circle cx="398.39" cy="921.4" r="2.55"/><circle cx="398.39" cy="927.5" r="2.55"/><circle cx="398.39" cy="945.8" r="2.55"/><circle cx="398.39" cy="954.4" r="2.55"/><circle cx="429.62" cy="903.8" r="2.55"/><circle cx="429.62" cy="912.9" r="2.55"/><circle cx="429.62" cy="919" r="2.55"/><circle cx="429.62" cy="925.1" r="2.55"/><circle cx="429.62" cy="933.6" r="2.55"/><circle cx="429.62" cy="937.3" r="2.55"/><circle cx="429.62" cy="953.9" r="2.55"/><circle cx="429.62" cy="962.9" r="2.55"/><circle cx="452.92" cy="897" r="2.55"/><circle cx="452.92" cy="901.9" r="2.55"/><circle cx="452.92" cy="938.5" r="2.55"/><circle cx="452.92" cy="947" r="2.55"/><circle cx="452.92" cy="954.4" r="2.55"/><circle cx="452.92" cy="973.4" r="2.55"/><circle cx="476.22" cy="856" r="2.55"/><circle cx="476.22" cy="908" r="2.55"/><circle cx="476.22" cy="919" r="2.55"/><circle cx="476.22" cy="932.4" r="2.55"/><circle cx="476.22" cy="942.2" r="2.55"/><circle cx="476.22" cy="945.8" r="2.55"/><circle cx="476.22" cy="954.4" r="2.55"/><circle cx="507.45" cy="887.7" r="2.55"/><circle cx="507.45" cy="898.2" r="2.55"/><circle cx="507.45" cy="901.9" r="2.55"/><circle cx="507.45" cy="910.4" r="2.55"/><circle cx="507.45" cy="922.6" r="2.55"/><circle cx="507.45" cy="938.5" r="2.55"/><circle cx="530.75" cy="869.4" r="2.55"/><circle cx="530.75" cy="911.6" r="2.55"/><circle cx="530.75" cy="923.8" r="2.55"/><circle cx="530.75" cy="932.4" r="2.55"/><circle cx="530.75" cy="939.7" r="2.55"/><circle cx="530.75" cy="958.5" r="2.55"/><circle cx="554.05" cy="907.5" r="2.55"/><circle cx="554.05" cy="932.4" r="2.55"/><circle cx="554.05" cy="938.5" r="2.55"/><circle cx="554.05" cy="943.4" r="2.55"/><circle cx="554.05" cy="947" r="2.55"/><circle cx="554.05" cy="954.4" r="2.55"/><circle cx="585.28" cy="815.7" r="2.55"/><circle cx="585.28" cy="917.7" r="2.55"/><circle cx="585.28" cy="928.7" r="2.55"/><circle cx="585.28" cy="934.8" r="2.55"/><circle cx="585.28" cy="939.7" r="2.55"/><circle cx="608.58" cy="846.2" r="2.55"/><circle cx="608.58" cy="870.1" r="2.55"/><circle cx="608.58" cy="881.1" r="2.55"/><circle cx="608.58" cy="886" r="2.55"/><circle cx="608.58" cy="905.5" r="2.55"/><circle cx="608.58" cy="910.4" r="2.55"/><circle cx="608.58" cy="959.2" r="2.55"/><circle cx="631.88" cy="899.9" r="2.55"/><circle cx="631.88" cy="908.7" r="2.55"/><circle cx="631.88" cy="915.3" r="2.55"/><circle cx="631.88" cy="922.6" r="2.55"/><circle cx="631.88" cy="926.3" r="2.55"/><circle cx="634.28" cy="928.7" r="2.55"/><circle cx="631.88" cy="945.1" r="2.55"/><circle cx="663.11" cy="697.6" r="2.55"/><circle cx="663.11" cy="878.7" r="2.55"/><circle cx="663.11" cy="898.2" r="2.55"/><circle cx="663.11" cy="912.9" r="2.55"/><circle cx="663.11" cy="942.2" r="2.55"/><circle cx="663.11" cy="953.1" r="2.55"/><circle cx="686.41" cy="888.5" r="2.55"/><circle cx="686.41" cy="892.1" r="2.55"/><circle cx="686.41" cy="911.6" r="2.55"/><circle cx="686.41" cy="916.5" r="2.55"/><circle cx="686.41" cy="920.2" r="2.55"/><circle cx="686.41" cy="951.4" r="2.55"/><circle cx="709.71" cy="850.6" r="2.55"/><circle cx="709.71" cy="927.5" r="2.55"/><circle cx="709.71" cy="947.5" r="2.55"/><circle cx="709.71" cy="981.2" r="2.55"/><circle cx="709.71" cy="991" r="2.55"/></g>
<text transform="translate(36.4 878.7) rotate(-90) scale(0.9593 1)" font-size="26.5" text-anchor="middle" class="yt">Arterial pO2 (mmHg)</text>
<text transform="translate(415 1155.2) scale(1.0082 1)" font-size="25.5" text-anchor="middle">Time after ASPH (h)</text>
<text transform="translate(77.9 650.8) scale(0.890 1)" font-size="34" class="L">C</text>
</g>
<g id="panelD" class="wb">
<rect x="841.95" y="1073.45" width="18.9" height="30.4" fill="#ffdada" stroke="#000" stroke-width="1.9"/>
<rect x="864.95" y="1065.45" width="18.9" height="38.4" fill="#dbffdb" stroke="#000" stroke-width="1.9"/>
<rect x="887.95" y="1069.85" width="18.9" height="34" fill="#e4e4ff" stroke="#000" stroke-width="1.9"/>
<rect x="918.04" y="906.25" width="18.9" height="197.6" fill="#ffdada" stroke="#000" stroke-width="1.9"/>
<rect x="941.04" y="913.65" width="18.9" height="190.2" fill="#dbffdb" stroke="#000" stroke-width="1.9"/>
<rect x="964.04" y="885.05" width="18.9" height="218.8" fill="#e4e4ff" stroke="#000" stroke-width="1.9"/>
<rect x="994.13" y="1030.75" width="18.9" height="73.1" fill="#ffdada" stroke="#000" stroke-width="1.9"/>
<rect x="1017.13" y="1018.05" width="18.9" height="85.8" fill="#dbffdb" stroke="#000" stroke-width="1.9"/>
<rect x="1040.13" y="1007.55" width="18.9" height="96.3" fill="#e4e4ff" stroke="#000" stroke-width="1.9"/>
<rect x="1070.22" y="1078.35" width="18.9" height="25.5" fill="#ffdada" stroke="#000" stroke-width="1.9"/>
<rect x="1093.22" y="1080.35" width="18.9" height="23.5" fill="#dbffdb" stroke="#000" stroke-width="1.9"/>
<rect x="1116.22" y="1082.95" width="18.9" height="20.9" fill="#e4e4ff" stroke="#000" stroke-width="1.9"/>
<rect x="1146.31" y="1078.25" width="18.9" height="25.6" fill="#ffdada" stroke="#000" stroke-width="1.9"/>
<rect x="1169.31" y="1080.45" width="18.9" height="23.4" fill="#dbffdb" stroke="#000" stroke-width="1.9"/>
<rect x="1192.31" y="1084.65" width="18.9" height="19.2" fill="#e4e4ff" stroke="#000" stroke-width="1.9"/>
<rect x="1222.4" y="1084.65" width="18.9" height="19.2" fill="#ffdada" stroke="#000" stroke-width="1.9"/>
<rect x="1245.4" y="1080.45" width="18.9" height="23.4" fill="#dbffdb" stroke="#000" stroke-width="1.9"/>
<rect x="1268.4" y="1086.05" width="18.9" height="17.8" fill="#e4e4ff" stroke="#000" stroke-width="1.9"/>
<rect x="1298.49" y="1082.75" width="18.9" height="21.1" fill="#ffdada" stroke="#000" stroke-width="1.9"/>
<rect x="1321.49" y="1078.25" width="18.9" height="25.6" fill="#dbffdb" stroke="#000" stroke-width="1.9"/>
<rect x="1344.49" y="1084.65" width="18.9" height="19.2" fill="#e4e4ff" stroke="#000" stroke-width="1.9"/>
<rect x="1374.58" y="1082.75" width="18.9" height="21.1" fill="#ffdada" stroke="#000" stroke-width="1.9"/>
<rect x="1397.58" y="1082.75" width="18.9" height="21.1" fill="#dbffdb" stroke="#000" stroke-width="1.9"/>
<rect x="1420.58" y="1080.45" width="18.9" height="23.4" fill="#e4e4ff" stroke="#000" stroke-width="1.9"/>
<path d="M831.5 721.45 V1103.8 H1454.3" fill="none" stroke="#000" stroke-width="2.1" stroke-linecap="butt" stroke-linejoin="miter"/>
<text transform="translate(819.5 731.4) scale(0.8541 1)" font-size="28" text-anchor="end" class="yl">20</text>
<text transform="translate(819.5 827.5) scale(0.8541 1)" font-size="28" text-anchor="end" class="yl">15</text>
<text transform="translate(819.5 922.9) scale(0.8541 1)" font-size="28" text-anchor="end" class="yl">10</text>
<text transform="translate(819.5 1018.1) scale(0.8539 1)" font-size="28" text-anchor="end" class="yl">5</text>
<text transform="translate(819.5 1112.6) scale(0.8539 1)" font-size="28" text-anchor="end" class="yl">0</text>
<text transform="translate(878.4 1135.4) scale(0.96 1)" font-size="25.5" text-anchor="middle" class="tk">B</text>
<text transform="translate(954.5 1135.4) scale(0.96 1)" font-size="25.5" text-anchor="middle" class="tk">ASPH</text>
<text transform="translate(1026.3 1135.4) scale(0.96 1)" font-size="25.5" text-anchor="middle" class="tk">1</text>
<text transform="translate(1103.5 1135.4) scale(0.96 1)" font-size="25.5" text-anchor="middle" class="tk">4</text>
<text transform="translate(1182.2 1135.4) scale(0.96 1)" font-size="25.5" text-anchor="middle" class="tk">12</text>
<text transform="translate(1258.4 1135.4) scale(0.96 1)" font-size="25.5" text-anchor="middle" class="tk">24</text>
<text transform="translate(1333.8 1135.4) scale(0.96 1)" font-size="25.5" text-anchor="middle" class="tk">36</text>
<text transform="translate(1410.6 1135.4) scale(0.96 1)" font-size="25.5" text-anchor="middle" class="tk">47</text>
<path d="M823.5 722.5H831.5M823.5 818.6H831.5M823.5 914H831.5M823.5 1009.2H831.5M823.5 1103.7H831.5M873.6 1103.8V1111.8M949.7 1103.8V1111.8M1025.8 1103.8V1111.8M1101.9 1103.8V1111.8M1178 1103.8V1111.8M1254.1 1103.8V1111.8M1330.2 1103.8V1111.8M1406.3 1103.8V1111.8" fill="none" stroke="#000" stroke-width="1.7"/>
<path d="M851.4 1066.1V1080.8M845.9 1066.1H856.9M845.9 1080.8H856.9M874.4 1058.8V1071M868.9 1058.8H879.9M868.9 1071H879.9M897.4 1063.7V1075.9M891.9 1063.7H902.9M891.9 1075.9H902.9M927.49 880.6V929.9M921.99 880.6H932.99M921.99 929.9H932.99M950.49 889.9V938M944.99 889.9H955.99M944.99 938H955.99M973.49 863.5V903.8M967.99 863.5H978.99M967.99 903.8H978.99M1003.58 1012.9V1050.3M998.08 1012.9H1009.08M998.08 1050.3H1009.08M1026.58 1007.5V1029M1021.08 1007.5H1032.08M1021.08 1029H1032.08M1049.58 1001.9V1014.9M1044.08 1001.9H1055.08M1044.08 1014.9H1055.08M1079.67 1072.4V1084.5M1074.17 1072.4H1085.17M1074.17 1084.5H1085.17M1102.67 1076V1084.5M1097.17 1076H1108.17M1097.17 1084.5H1108.17M1125.67 1081V1085M1120.17 1081H1131.17M1120.17 1085H1131.17M1155.76 1074.8V1081.8M1150.26 1074.8H1161.26M1150.26 1081.8H1161.26M1178.76 1076.2V1084.6M1173.26 1076.2H1184.26M1173.26 1084.6H1184.26M1201.76 1083V1086.2M1196.26 1083H1207.26M1196.26 1086.2H1207.26M1231.85 1083.2V1086M1226.35 1083.2H1237.35M1226.35 1086H1237.35M1254.85 1078.2V1083M1249.35 1078.2H1260.35M1249.35 1083H1260.35M1277.85 1084V1088M1272.35 1084H1283.35M1272.35 1088H1283.35M1307.94 1079.5V1086M1302.44 1079.5H1313.44M1302.44 1086H1313.44M1330.94 1075.5V1081M1325.44 1075.5H1336.44M1325.44 1081H1336.44M1353.94 1081.8V1087.4M1348.44 1081.8H1359.44M1348.44 1087.4H1359.44M1384.03 1079V1086M1378.53 1079H1389.53M1378.53 1086H1389.53M1407.03 1080.5V1085M1401.53 1080.5H1412.53M1401.53 1085H1412.53M1430.03 1077V1083.8M1424.53 1077H1435.53M1424.53 1083.8H1435.53" fill="none" stroke="#000" stroke-width="1.5"/>
<g fill="#000"><circle cx="851.4" cy="1028.8" r="2.55"/><circle cx="851.4" cy="1074.7" r="2.55"/><circle cx="851.4" cy="1079.5" r="2.55"/><circle cx="851.4" cy="1083.2" r="2.55"/><circle cx="851.4" cy="1086.9" r="2.55"/><circle cx="874.4" cy="1046.6" r="2.55"/><circle cx="874.4" cy="1051.5" r="2.55"/><circle cx="874.4" cy="1057.6" r="2.55"/><circle cx="874.4" cy="1069.8" r="2.55"/><circle cx="874.4" cy="1074.7" r="2.55"/><circle cx="874.4" cy="1079.5" r="2.55"/><circle cx="874.4" cy="1083.7" r="2.55"/><circle cx="897.4" cy="1040" r="2.55"/><circle cx="897.4" cy="1064.9" r="2.55"/><circle cx="897.4" cy="1069.8" r="2.55"/><circle cx="897.4" cy="1073.4" r="2.55"/><circle cx="897.4" cy="1077.1" r="2.55"/><circle cx="897.4" cy="1080.8" r="2.55"/><circle cx="927.49" cy="804.5" r="2.55"/><circle cx="927.49" cy="823.7" r="2.55"/><circle cx="927.49" cy="841.6" r="2.55"/><circle cx="927.49" cy="940.4" r="2.55"/><circle cx="927.49" cy="956.3" r="2.55"/><circle cx="927.49" cy="960" r="2.55"/><circle cx="927.49" cy="963.6" r="2.55"/><circle cx="950.49" cy="800.1" r="2.55"/><circle cx="950.49" cy="826.4" r="2.55"/><circle cx="950.49" cy="923.3" r="2.55"/><circle cx="950.49" cy="930.7" r="2.55"/><circle cx="950.49" cy="950.7" r="2.55"/><circle cx="950.49" cy="974.6" r="2.55"/><circle cx="950.49" cy="985.6" r="2.55"/><circle cx="973.49" cy="795.9" r="2.55"/><circle cx="973.49" cy="820.8" r="2.55"/><circle cx="973.49" cy="847.7" r="2.55"/><circle cx="973.49" cy="916" r="2.55"/><circle cx="973.49" cy="928.2" r="2.55"/><circle cx="973.49" cy="965.3" r="2.55"/><circle cx="1003.58" cy="916.7" r="2.55"/><circle cx="1003.58" cy="1050.3" r="2.55"/><circle cx="1003.58" cy="1058.8" r="2.55"/><circle cx="1003.58" cy="1079.5" r="2.55"/><circle cx="1026.58" cy="969.7" r="2.55"/><circle cx="1026.58" cy="995.3" r="2.55"/><circle cx="1026.58" cy="999" r="2.55"/><circle cx="1026.58" cy="1029.5" r="2.55"/><circle cx="1026.58" cy="1038" r="2.55"/><circle cx="1026.58" cy="1051.5" r="2.55"/><circle cx="1028.98" cy="1054" r="2.55"/><circle cx="1049.58" cy="982.6" r="2.55"/><circle cx="1049.58" cy="994.1" r="2.55"/><circle cx="1049.58" cy="1002.7" r="2.55"/><circle cx="1049.58" cy="1011.2" r="2.55"/><circle cx="1049.58" cy="1017.3" r="2.55"/><circle cx="1049.58" cy="1030.7" r="2.55"/><circle cx="1049.58" cy="1035.6" r="2.55"/><circle cx="1079.67" cy="1040.6" r="2.55"/><circle cx="1079.67" cy="1080.8" r="2.55"/><circle cx="1079.67" cy="1084.4" r="2.55"/><circle cx="1079.67" cy="1088.3" r="2.55"/><circle cx="1102.67" cy="1063" r="2.55"/><circle cx="1102.67" cy="1066.2" r="2.55"/><circle cx="1102.67" cy="1081" r="2.55"/><circle cx="1102.67" cy="1084.5" r="2.55"/><circle cx="1102.67" cy="1088.1" r="2.55"/><circle cx="1125.67" cy="1079.3" r="2.55"/><circle cx="1125.67" cy="1082.5" r="2.55"/><circle cx="1128.07" cy="1084.4" r="2.55"/><circle cx="1123.27" cy="1086.6" r="2.55"/><circle cx="1155.76" cy="1069.2" r="2.55"/><circle cx="1155.76" cy="1074.8" r="2.55"/><circle cx="1155.76" cy="1080.4" r="2.55"/><circle cx="1155.76" cy="1084.6" r="2.55"/><circle cx="1155.76" cy="1088.3" r="2.55"/><circle cx="1178.76" cy="1063.6" r="2.55"/><circle cx="1178.76" cy="1073.4" r="2.55"/><circle cx="1178.76" cy="1079" r="2.55"/><circle cx="1178.76" cy="1084.6" r="2.55"/><circle cx="1178.76" cy="1093" r="2.55"/><circle cx="1178.76" cy="1098.6" r="2.55"/><circle cx="1201.76" cy="1081.8" r="2.55"/><circle cx="1201.76" cy="1084.6" r="2.55"/><circle cx="1201.76" cy="1087.4" r="2.55"/><circle cx="1231.85" cy="1081.8" r="2.55"/><circle cx="1234.25" cy="1084" r="2.55"/><circle cx="1229.45" cy="1086" r="2.55"/><circle cx="1254.85" cy="1072" r="2.55"/><circle cx="1254.85" cy="1080.4" r="2.55"/><circle cx="1254.85" cy="1084.6" r="2.55"/><circle cx="1254.85" cy="1087.4" r="2.55"/><circle cx="1277.85" cy="1077.6" r="2.55"/><circle cx="1277.85" cy="1084.6" r="2.55"/><circle cx="1277.85" cy="1087.4" r="2.55"/><circle cx="1277.85" cy="1090.2" r="2.55"/><circle cx="1307.94" cy="1074.8" r="2.55"/><circle cx="1307.94" cy="1080.4" r="2.55"/><circle cx="1307.94" cy="1084.6" r="2.55"/><circle cx="1307.94" cy="1091.6" r="2.55"/><circle cx="1330.94" cy="1069.2" r="2.55"/><circle cx="1330.94" cy="1076.2" r="2.55"/><circle cx="1330.94" cy="1079" r="2.55"/><circle cx="1330.94" cy="1083.2" r="2.55"/><circle cx="1353.94" cy="1076.2" r="2.55"/><circle cx="1353.94" cy="1081.8" r="2.55"/><circle cx="1353.94" cy="1086" r="2.55"/><circle cx="1353.94" cy="1088.8" r="2.55"/><circle cx="1384.03" cy="1072" r="2.55"/><circle cx="1384.03" cy="1077.6" r="2.55"/><circle cx="1384.03" cy="1083.2" r="2.55"/><circle cx="1384.03" cy="1087.4" r="2.55"/><circle cx="1384.03" cy="1091.6" r="2.55"/><circle cx="1407.03" cy="1077.6" r="2.55"/><circle cx="1407.03" cy="1081.8" r="2.55"/><circle cx="1407.03" cy="1084.6" r="2.55"/><circle cx="1407.03" cy="1088.8" r="2.55"/><circle cx="1430.03" cy="1069.2" r="2.55"/><circle cx="1430.03" cy="1076.2" r="2.55"/><circle cx="1430.03" cy="1081.8" r="2.55"/><circle cx="1430.03" cy="1088.8" r="2.55"/></g>
<text transform="translate(776.9 908.4) rotate(-90) scale(0.9603 1)" font-size="26.5" text-anchor="middle" class="yt">Blood lactate (mmol/l)</text>
<text transform="translate(1141 1177.5) scale(1.0070 1)" font-size="25" text-anchor="middle">Time after ASPH (h)</text>
<text transform="translate(804.9 656.3) scale(0.950 1)" font-size="34" class="L">D</text>
</g>
<g id="panelE" class="wb">
<rect x="475.85" y="1548.05" width="19.1" height="104.8" fill="#ffdada" stroke="#000" stroke-width="1.9"/>
<rect x="499.15" y="1548.05" width="19.1" height="104.8" fill="#dbffdb" stroke="#000" stroke-width="1.9"/>
<rect x="522.45" y="1537.35" width="19.1" height="115.5" fill="#e4e4ff" stroke="#000" stroke-width="1.9"/>
<rect x="553.74" y="1447.05" width="19.1" height="205.8" fill="#ffdada" stroke="#000" stroke-width="1.9"/>
<rect x="577.04" y="1447.05" width="19.1" height="205.8" fill="#dbffdb" stroke="#000" stroke-width="1.9"/>
<rect x="600.34" y="1426.05" width="19.1" height="226.8" fill="#e4e4ff" stroke="#000" stroke-width="1.9"/>
<rect x="631.63" y="1496.85" width="19.1" height="156" fill="#ffdada" stroke="#000" stroke-width="1.9"/>
<rect x="654.93" y="1509.25" width="19.1" height="143.6" fill="#dbffdb" stroke="#000" stroke-width="1.9"/>
<rect x="678.23" y="1471.45" width="19.1" height="181.4" fill="#e4e4ff" stroke="#000" stroke-width="1.9"/>
<rect x="709.52" y="1545.65" width="19.1" height="107.2" fill="#ffdada" stroke="#000" stroke-width="1.9"/>
<rect x="732.82" y="1542.75" width="19.1" height="110.1" fill="#dbffdb" stroke="#000" stroke-width="1.9"/>
<rect x="756.12" y="1533.25" width="19.1" height="119.6" fill="#e4e4ff" stroke="#000" stroke-width="1.9"/>
<rect x="787.41" y="1532.35" width="19.1" height="120.5" fill="#ffdada" stroke="#000" stroke-width="1.9"/>
<rect x="810.71" y="1572.55" width="19.1" height="80.3" fill="#dbffdb" stroke="#000" stroke-width="1.9"/>
<rect x="834.01" y="1526.65" width="19.1" height="126.2" fill="#e4e4ff" stroke="#000" stroke-width="1.9"/>
<rect x="865.3" y="1566.15" width="19.1" height="86.7" fill="#ffdada" stroke="#000" stroke-width="1.9"/>
<rect x="888.6" y="1557.05" width="19.1" height="95.8" fill="#dbffdb" stroke="#000" stroke-width="1.9"/>
<rect x="911.9" y="1524.95" width="19.1" height="127.9" fill="#e4e4ff" stroke="#000" stroke-width="1.9"/>
<rect x="943.19" y="1563.65" width="19.1" height="89.2" fill="#ffdada" stroke="#000" stroke-width="1.9"/>
<rect x="966.49" y="1561.45" width="19.1" height="91.4" fill="#dbffdb" stroke="#000" stroke-width="1.9"/>
<rect x="989.79" y="1542.25" width="19.1" height="110.6" fill="#e4e4ff" stroke="#000" stroke-width="1.9"/>
<rect x="1021.08" y="1582.45" width="19.1" height="70.4" fill="#ffdada" stroke="#000" stroke-width="1.9"/>
<rect x="1044.38" y="1572.55" width="19.1" height="80.3" fill="#dbffdb" stroke="#000" stroke-width="1.9"/>
<rect x="1067.68" y="1513.85" width="19.1" height="139" fill="#e4e4ff" stroke="#000" stroke-width="1.9"/>
<path d="M464.6 1258.95 V1652.8 H1102.5" fill="none" stroke="#000" stroke-width="2.1" stroke-linecap="butt" stroke-linejoin="miter"/>
<text transform="translate(452.4 1269.1) scale(0.8733 1)" font-size="28" text-anchor="end" class="yl">20</text>
<text transform="translate(452.4 1366.7) scale(0.8733 1)" font-size="28" text-anchor="end" class="yl">15</text>
<text transform="translate(452.4 1465) scale(0.8733 1)" font-size="28" text-anchor="end" class="yl">10</text>
<text transform="translate(452.4 1563.3) scale(0.8732 1)" font-size="28" text-anchor="end" class="yl">5</text>
<text transform="translate(452.4 1661.6) scale(0.8732 1)" font-size="28" text-anchor="end" class="yl">0</text>
<text transform="translate(512.5 1683.8) scale(0.97 1)" font-size="25.9" text-anchor="middle" class="tk">B</text>
<text transform="translate(591.1 1683.8) scale(0.97 1)" font-size="25.9" text-anchor="middle" class="tk">ASPH</text>
<text transform="translate(667 1683.8) scale(0.97 1)" font-size="25.9" text-anchor="middle" class="tk">1</text>
<text transform="translate(744.7 1683.8) scale(0.97 1)" font-size="25.9" text-anchor="middle" class="tk">4</text>
<text transform="translate(825.1 1683.8) scale(0.97 1)" font-size="25.9" text-anchor="middle" class="tk">12</text>
<text transform="translate(903.3 1683.8) scale(0.97 1)" font-size="25.9" text-anchor="middle" class="tk">24</text>
<text transform="translate(981.2 1683.8) scale(0.97 1)" font-size="25.9" text-anchor="middle" class="tk">36</text>
<text transform="translate(1059.2 1683.8) scale(0.97 1)" font-size="25.9" text-anchor="middle" class="tk">47</text>
<path d="M456.6 1260.2H464.6M456.6 1357.8H464.6M456.6 1456.1H464.6M456.6 1554.4H464.6M456.6 1652.7H464.6M507.8 1652.8V1660.8M585.8 1652.8V1660.8M663.8 1652.8V1660.8M741.8 1652.8V1660.8M819.8 1652.8V1660.8M897.8 1652.8V1660.8M975.8 1652.8V1660.8M1053.8 1652.8V1660.8" fill="none" stroke="#000" stroke-width="1.7"/>
<path d="M485.4 1539V1557.3M479.9 1539H490.9M479.9 1557.3H490.9M508.7 1542.7V1556M503.2 1542.7H514.2M503.2 1556H514.2M532 1525.6V1548M526.5 1525.6H537.5M526.5 1548H537.5M563.29 1421.1V1474.3M557.79 1421.1H568.79M557.79 1474.3H568.79M586.59 1426.7V1468.2M581.09 1426.7H592.09M581.09 1468.2H592.09M609.89 1406.7V1443.8M604.39 1406.7H615.39M604.39 1443.8H615.39M641.18 1479.2V1515.8M635.68 1479.2H646.68M635.68 1515.8H646.68M664.48 1498.2V1520.7M658.98 1498.2H669.98M658.98 1520.7H669.98M687.78 1451.9V1491.9M682.28 1451.9H693.28M682.28 1491.9H693.28M719.07 1537.8V1553.6M713.57 1537.8H724.57M713.57 1553.6H724.57M742.37 1536.6V1548.8M736.87 1536.6H747.87M736.87 1548.8H747.87M765.67 1517.6V1549.6M760.17 1517.6H771.17M760.17 1549.6H771.17M796.96 1502.7V1560M791.46 1502.7H802.46M791.46 1560H802.46M820.26 1563.1V1581.6M814.76 1563.1H825.76M814.76 1581.6H825.76M843.56 1513.8V1539.7M838.06 1513.8H849.06M838.06 1539.7H849.06M874.85 1560.7V1570.5M869.35 1560.7H880.35M869.35 1570.5H880.35M898.15 1549.6V1564.4M892.65 1549.6H903.65M892.65 1564.4H903.65M921.45 1513.3V1536M915.95 1513.3H926.95M915.95 1536H926.95M952.74 1554.5V1573M947.24 1554.5H958.24M947.24 1573H958.24M976.04 1555.2V1566.8M970.54 1555.2H981.54M970.54 1566.8H981.54M999.34 1531.1V1553.3M993.84 1531.1H1004.84M993.84 1553.3H1004.84M1030.63 1575V1588.3M1025.13 1575H1036.13M1025.13 1588.3H1036.13M1053.93 1564.4V1580.4M1048.43 1564.4H1059.43M1048.43 1580.4H1059.43M1077.23 1487.4V1539.7M1071.73 1487.4H1082.73M1071.73 1539.7H1082.73" fill="none" stroke="#000" stroke-width="1.5"/>
<g fill="#000"><circle cx="485.4" cy="1524.4" r="2.55"/><circle cx="485.4" cy="1531.7" r="2.55"/><circle cx="485.4" cy="1539" r="2.55"/><circle cx="485.4" cy="1548" r="2.55"/><circle cx="485.4" cy="1556.1" r="2.55"/><circle cx="485.4" cy="1564.6" r="2.55"/><circle cx="485.4" cy="1602.5" r="2.55"/><circle cx="508.7" cy="1528.7" r="2.55"/><circle cx="508.7" cy="1536.6" r="2.55"/><circle cx="508.7" cy="1542.7" r="2.55"/><circle cx="508.7" cy="1548" r="2.55"/><circle cx="508.7" cy="1552.4" r="2.55"/><circle cx="508.7" cy="1575.6" r="2.55"/><circle cx="508.7" cy="1579.3" r="2.55"/><circle cx="532" cy="1488.2" r="2.55"/><circle cx="532" cy="1521.9" r="2.55"/><circle cx="532" cy="1526.8" r="2.55"/><circle cx="532" cy="1539" r="2.55"/><circle cx="532" cy="1556.8" r="2.55"/><circle cx="532" cy="1573.9" r="2.55"/><circle cx="532" cy="1582.9" r="2.55"/><circle cx="563.29" cy="1346.7" r="2.55"/><circle cx="563.29" cy="1358.9" r="2.55"/><circle cx="563.29" cy="1430.4" r="2.55"/><circle cx="563.29" cy="1442.6" r="2.55"/><circle cx="563.29" cy="1454.8" r="2.55"/><circle cx="563.29" cy="1474.3" r="2.55"/><circle cx="563.29" cy="1489.7" r="2.55"/><circle cx="563.29" cy="1582.9" r="2.55"/><circle cx="586.59" cy="1325.4" r="2.55"/><circle cx="586.59" cy="1412.1" r="2.55"/><circle cx="586.59" cy="1448.7" r="2.55"/><circle cx="586.59" cy="1456" r="2.55"/><circle cx="586.59" cy="1478" r="2.55"/><circle cx="586.59" cy="1484.1" r="2.55"/><circle cx="586.59" cy="1523.6" r="2.55"/><circle cx="609.89" cy="1367.4" r="2.55"/><circle cx="609.89" cy="1375.5" r="2.55"/><circle cx="609.89" cy="1385.2" r="2.55"/><circle cx="609.89" cy="1388.9" r="2.55"/><circle cx="609.89" cy="1442.6" r="2.55"/><circle cx="609.89" cy="1448.7" r="2.55"/><circle cx="609.89" cy="1462.1" r="2.55"/><circle cx="609.89" cy="1467" r="2.55"/><circle cx="609.89" cy="1513.9" r="2.55"/><circle cx="641.18" cy="1433.3" r="2.55"/><circle cx="641.18" cy="1454.8" r="2.55"/><circle cx="641.18" cy="1466" r="2.55"/><circle cx="643.58" cy="1468" r="2.55"/><circle cx="641.18" cy="1502.4" r="2.55"/><circle cx="641.18" cy="1509.7" r="2.55"/><circle cx="641.18" cy="1523.1" r="2.55"/><circle cx="641.18" cy="1531.2" r="2.55"/><circle cx="641.18" cy="1596.4" r="2.55"/><circle cx="664.48" cy="1450.4" r="2.55"/><circle cx="664.48" cy="1487.7" r="2.55"/><circle cx="664.48" cy="1493.8" r="2.55"/><circle cx="664.48" cy="1508.5" r="2.55"/><circle cx="664.48" cy="1520.7" r="2.55"/><circle cx="664.48" cy="1528" r="2.55"/><circle cx="664.48" cy="1537.3" r="2.55"/><circle cx="664.48" cy="1549.5" r="2.55"/><circle cx="687.78" cy="1378.4" r="2.55"/><circle cx="687.78" cy="1413.8" r="2.55"/><circle cx="687.78" cy="1464.6" r="2.55"/><circle cx="687.78" cy="1476.8" r="2.55"/><circle cx="687.78" cy="1523.1" r="2.55"/><circle cx="687.78" cy="1530.5" r="2.55"/><circle cx="690.18" cy="1532.9" r="2.55"/><circle cx="719.07" cy="1519.5" r="2.55"/><circle cx="719.07" cy="1524.4" r="2.55"/><circle cx="719.07" cy="1532.9" r="2.55"/><circle cx="719.07" cy="1545.6" r="2.55"/><circle cx="719.07" cy="1553.6" r="2.55"/><circle cx="719.07" cy="1564.6" r="2.55"/><circle cx="719.07" cy="1588.5" r="2.55"/><circle cx="742.37" cy="1523.1" r="2.55"/><circle cx="742.37" cy="1532.9" r="2.55"/><circle cx="742.37" cy="1536.6" r="2.55"/><circle cx="742.37" cy="1542.7" r="2.55"/><circle cx="742.37" cy="1548.8" r="2.55"/><circle cx="742.37" cy="1558.5" r="2.55"/><circle cx="742.37" cy="1570.7" r="2.55"/><circle cx="765.67" cy="1475.9" r="2.55"/><circle cx="765.67" cy="1481.4" r="2.55"/><circle cx="765.67" cy="1487.5" r="2.55"/><circle cx="765.67" cy="1547.1" r="2.55"/><circle cx="765.67" cy="1551.3" r="2.55"/><circle cx="765.67" cy="1558.7" r="2.55"/><circle cx="765.67" cy="1580" r="2.55"/><circle cx="765.67" cy="1588" r="2.55"/><circle cx="796.96" cy="1326.8" r="2.55"/><circle cx="796.96" cy="1555.7" r="2.55"/><circle cx="799.36" cy="1558" r="2.55"/><circle cx="794.56" cy="1560.2" r="2.55"/><circle cx="799.36" cy="1562" r="2.55"/><circle cx="796.96" cy="1574.2" r="2.55"/><circle cx="820.26" cy="1548.5" r="2.55"/><circle cx="822.66" cy="1550.5" r="2.55"/><circle cx="820.26" cy="1560.7" r="2.55"/><circle cx="820.26" cy="1580.4" r="2.55"/><circle cx="820.26" cy="1585.3" r="2.55"/><circle cx="820.26" cy="1594" r="2.55"/><circle cx="820.26" cy="1619.9" r="2.55"/><circle cx="843.56" cy="1479" r="2.55"/><circle cx="843.56" cy="1482.5" r="2.55"/><circle cx="843.56" cy="1502" r="2.55"/><circle cx="843.56" cy="1531.1" r="2.55"/><circle cx="843.56" cy="1550.8" r="2.55"/><circle cx="843.56" cy="1555.7" r="2.55"/><circle cx="843.56" cy="1573" r="2.55"/><circle cx="874.85" cy="1545.9" r="2.55"/><circle cx="874.85" cy="1549.6" r="2.55"/><circle cx="874.85" cy="1566.8" r="2.55"/><circle cx="874.85" cy="1571.8" r="2.55"/><circle cx="874.85" cy="1580.4" r="2.55"/><circle cx="874.85" cy="1584.1" r="2.55"/><circle cx="898.15" cy="1534.8" r="2.55"/><circle cx="898.15" cy="1539.7" r="2.55"/><circle cx="898.15" cy="1552" r="2.55"/><circle cx="898.15" cy="1561.9" r="2.55"/><circle cx="898.15" cy="1568.1" r="2.55"/><circle cx="898.15" cy="1575.5" r="2.55"/><circle cx="898.15" cy="1579.9" r="2.55"/><circle cx="921.45" cy="1468.9" r="2.55"/><circle cx="921.45" cy="1505.9" r="2.55"/><circle cx="921.45" cy="1527.4" r="2.55"/><circle cx="921.45" cy="1534.8" r="2.55"/><circle cx="921.45" cy="1543.4" r="2.55"/><circle cx="921.45" cy="1549.6" r="2.55"/><circle cx="921.45" cy="1555.2" r="2.55"/><circle cx="952.74" cy="1531.6" r="2.55"/><circle cx="952.74" cy="1545.9" r="2.55"/><circle cx="952.74" cy="1554.5" r="2.55"/><circle cx="952.74" cy="1568.1" r="2.55"/><circle cx="952.74" cy="1574.2" r="2.55"/><circle cx="952.74" cy="1584.1" r="2.55"/><circle cx="952.74" cy="1603.8" r="2.55"/><circle cx="976.04" cy="1542.2" r="2.55"/><circle cx="976.04" cy="1545.9" r="2.55"/><circle cx="976.04" cy="1555.2" r="2.55"/><circle cx="976.04" cy="1563.1" r="2.55"/><circle cx="976.04" cy="1574.2" r="2.55"/><circle cx="976.04" cy="1590.3" r="2.55"/><circle cx="999.34" cy="1504.4" r="2.55"/><circle cx="999.34" cy="1517.5" r="2.55"/><circle cx="999.34" cy="1529.8" r="2.55"/><circle cx="999.34" cy="1544.6" r="2.55"/><circle cx="999.34" cy="1549.6" r="2.55"/><circle cx="999.34" cy="1564.4" r="2.55"/><circle cx="999.34" cy="1586.6" r="2.55"/><circle cx="1030.63" cy="1558.7" r="2.55"/><circle cx="1030.63" cy="1570.5" r="2.55"/><circle cx="1030.63" cy="1575" r="2.55"/><circle cx="1030.63" cy="1584.1" r="2.55"/><circle cx="1030.63" cy="1587.8" r="2.55"/><circle cx="1030.63" cy="1602.1" r="2.55"/><circle cx="1030.63" cy="1610" r="2.55"/><circle cx="1053.93" cy="1542.2" r="2.55"/><circle cx="1053.93" cy="1549.6" r="2.55"/><circle cx="1053.93" cy="1558.2" r="2.55"/><circle cx="1053.93" cy="1566.8" r="2.55"/><circle cx="1053.93" cy="1589" r="2.55"/><circle cx="1053.93" cy="1596.4" r="2.55"/><circle cx="1053.93" cy="1603.8" r="2.55"/><circle cx="1077.23" cy="1362.6" r="2.55"/><circle cx="1077.23" cy="1518.7" r="2.55"/><circle cx="1077.23" cy="1527.4" r="2.55"/><circle cx="1077.23" cy="1533.5" r="2.55"/><circle cx="1077.23" cy="1545" r="2.55"/><circle cx="1077.23" cy="1549" r="2.55"/><circle cx="1077.23" cy="1565.6" r="2.55"/></g>
<text transform="translate(408.7 1448.4) rotate(-90) scale(0.9523 1)" font-size="26.5" text-anchor="middle" class="yt">Blood glucose (mmol/l)</text>
<text transform="translate(781.5 1728) scale(1.0082 1)" font-size="25.5" text-anchor="middle">Time after ASPH (h)</text>
<text transform="translate(447.1 1236.4) scale(0.780 1)" font-size="34" class="L">E</text>
</g>
<g id="legend"><rect x="1170.9" y="768.3" width="64.2" height="25.2" rx="2.5" fill="#ffd2d2" stroke="#000" stroke-width="1.8"/>
<rect x="1170.9" y="802.1" width="64.2" height="25.2" rx="2.5" fill="#d6ffd6" stroke="#000" stroke-width="1.8"/>
<rect x="1170.9" y="836.9" width="64.2" height="25.2" rx="2.5" fill="#dcdcff" stroke="#000" stroke-width="1.8"/>
<text x="1255.5" y="789.5" font-size="28.3" font-weight="bold" class="lg" letter-spacing="0.6">A-NT</text>
<text x="1255.5" y="823.8" font-size="28.3" font-weight="bold" class="lg">A-H<tspan font-size="19" dy="5.5">2</tspan></text>
<text x="1255.5" y="858.5" font-size="28.3" font-weight="bold" class="lg" letter-spacing="0.6">A-TH</text></g>
<g id="stars"><path d="M1033.3 1510.6L1031.8 1504.2L1030.3 1510.6ZM1030.3 1510.6L1031.8 1517L1033.3 1510.6ZM1032.63 1509.35L1025.5 1506.4L1030.97 1511.85ZM1032.63 1511.85L1038.1 1506.4L1030.97 1509.35ZM1030.97 1509.35L1025.5 1514.8L1032.63 1511.85ZM1030.97 1511.85L1038.1 1514.8L1032.63 1509.35Z" fill="#333"/>
<rect x="1028.3" y="1508.5" width="7.0" height="4.2" rx="0.6" fill="#000"/>
<circle cx="1031.8" cy="1505" r="1.0" fill="#555"/><circle cx="1031.8" cy="1516.2" r="1.0" fill="#555"/>
<path d="M1054.7 1489L1053.2 1482.6L1051.7 1489ZM1051.7 1489L1053.2 1495.4L1054.7 1489ZM1054.03 1487.75L1046.9 1484.8L1052.37 1490.25ZM1054.03 1490.25L1059.5 1484.8L1052.37 1487.75ZM1052.37 1487.75L1046.9 1493.2L1054.03 1490.25ZM1052.37 1490.25L1059.5 1493.2L1054.03 1487.75Z" fill="#333"/>
<rect x="1049.7" y="1486.9" width="7.0" height="4.2" rx="0.6" fill="#000"/>
<circle cx="1053.2" cy="1483.4" r="1.0" fill="#555"/><circle cx="1053.2" cy="1494.6" r="1.0" fill="#555"/></g>
</g></svg></body></html>
